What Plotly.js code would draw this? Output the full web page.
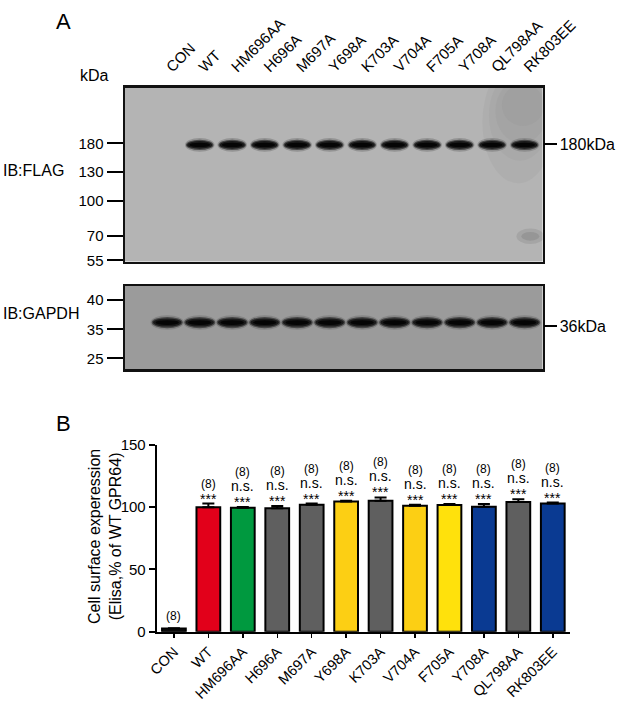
<!DOCTYPE html>
<html>
<head>
<meta charset="utf-8">
<script src="https://cdn.plot.ly/plotly-3.0.1.min.js"></script>
<style>
  body { margin: 0; background: #fff; }
  #chart { width: 617px; height: 702px; }
</style>
</head>
<body>
<div id="chart"></div>
<script>
// Lanes / groups (same order in the blots and in the bar chart)
const lanes = ['CON', 'WT', 'HM696AA', 'H696A', 'M697A', 'Y698A', 'K703A', 'V704A', 'F705A', 'Y708A', 'QL798AA', 'RK803EE'];

// Western blots: band present (1) or not (0) per lane
const flagBand = [0, 1, 1, 1, 1, 1, 1, 1, 1, 1, 1, 1];
const gapdhBand = [1, 1, 1, 1, 1, 1, 1, 1, 1, 1, 1, 1];

// Marker ladders (kDa) and their relative migration in each blot
const flagLadder = ['180', '130', '100', '70', '55'];
const flagLadderPos = [0.32, 0.483, 0.651, 0.852, 0.994];
const gapdhLadder = ['40', '35', '25'];
const gapdhLadderPos = [0.169, 0.522, 0.871];

// Cell surface expression (Elisa, % of WT GPR64)
const surface = [2.5, 100, 99.6, 99.2, 102, 104.6, 105.3, 101.2, 101.7, 100.3, 104.2, 103];
const surfaceErr = [0.3, 3, 0.5, 1.8, 1, 0.7, 2.6, 0.8, 0.9, 2.2, 2.3, 0.8];
const nLabels = ['(8)', '(8)', '(8)', '(8)', '(8)', '(8)', '(8)', '(8)', '(8)', '(8)', '(8)', '(8)'];
const nsLabels = ['', '', 'n.s.', 'n.s.', 'n.s.', 'n.s.', 'n.s.', 'n.s.', 'n.s.', 'n.s.', 'n.s.', 'n.s.'];
const starLabels = ['', '***', '***', '***', '***', '***', '***', '***', '***', '***', '***', '***'];

const barColors = ['#111111', '#e2001a', '#00993f', '#5f5f5f', '#5f5f5f', '#fccf14', '#5f5f5f',
                   '#fccf14', '#ffe10c', '#0a3a92', '#5f5f5f', '#0a3a92'];

const fnt = 'Liberation Sans, Arial, sans-serif';
const W = 617, H = 702;
const px = x => x / W;
const py = y => 1 - y / H;

const flagPos = 0.329;   // band migration in the FLAG blot
const gapdhPos = 0.44;   // band migration in the GAPDH blot
const laneIdx = lanes.map((_, i) => i);

// blurred-looking bands: stacked ellipses
function bandShapes(xref, yref, present, pos, hw, hh) {
  const out = [];
  const layers = [
    [1.14, 1.7, '#6a6a6a', 0.45],
    [1.06, 1.3, '#3a3a3a', 0.8],
    [0.97, 0.95, '#1a1a1a', 1],
    [0.8, 0.55, '#050505', 1]
  ];
  present.forEach((v, i) => {
    if (!v) return;
    layers.forEach(s => {
      out.push({
        type: 'circle', xref: xref, yref: yref,
        x0: i - hw * s[0], x1: i + hw * s[0], y0: pos - hh * s[1], y1: pos + hh * s[1],
        fillcolor: s[2], opacity: s[3], line: { width: 0 }
      });
    });
  });
  return out;
}

// faint haze in the upper right of the FLAG blot
function haze() {
  const out = [];
  [[9.7, 11.9, -0.15, 0.55], [9.9, 11.8, -0.1, 0.42], [10.1, 11.7, -0.05, 0.32], [10.3, 11.6, -0.02, 0.22]].forEach(r => {
    out.push({ type: 'circle', xref: 'x', yref: 'y', x0: r[0], x1: r[1], y0: r[2], y1: r[3],
               fillcolor: '#7c7c7c', opacity: 0.09, line: { width: 0 }, layer: 'below' });
  });
  out.push({ type: 'circle', xref: 'x', yref: 'y', x0: 10.75, x1: 11.6, y0: 0.81, y1: 0.9,
             fillcolor: '#8a8a8a', opacity: 0.35, line: { width: 0 } });
  out.push({ type: 'circle', xref: 'x', yref: 'y', x0: 10.9, x1: 11.45, y0: 0.83, y1: 0.88,
             fillcolor: '#7a7a7a', opacity: 0.35, line: { width: 0 } });
  return out;
}

const shapes = [
  { type: 'rect', xref: 'x domain', yref: 'y domain', x0: 0, x1: 1, y0: 0, y1: 1, fillcolor: '#b4b4b4', line: { width: 0 }, layer: 'below' },
  { type: 'rect', xref: 'x2 domain', yref: 'y2 domain', x0: 0, x1: 1, y0: 0, y1: 1, fillcolor: '#9b9b9b', line: { width: 0 }, layer: 'below' }
].concat(haze())
 .concat(bandShapes('x', 'y', flagBand, flagPos, 0.40, 0.023))
 .concat(bandShapes('x2', 'y2', gapdhBand, gapdhPos, 0.45, 0.052));

const annotations = [
  { text: 'A', x: px(54), y: py(21), xanchor: 'left', yanchor: 'middle', font: { size: 22 } },
  { text: 'kDa', x: px(78), y: py(76), xanchor: 'left', yanchor: 'middle', font: { size: 16 } },
  { text: 'IB:FLAG', x: px(1), y: py(170), xanchor: 'left', yanchor: 'middle', font: { size: 16 } },
  { text: 'IB:GAPDH', x: px(1), y: py(313), xanchor: 'left', yanchor: 'middle', font: { size: 16 } },
  { text: 'B', x: px(54), y: py(423), xanchor: 'left', yanchor: 'middle', font: { size: 22 } },
  { text: 'Cell surface experession<br>(Elisa,% of WT GPR64)', x: px(105), y: py(537), textangle: -90,
    xanchor: 'center', yanchor: 'middle', font: { size: 16 } }
].map(a => Object.assign({ xref: 'paper', yref: 'paper', showarrow: false }, a));

// bar-chart labels stacked above each error bar
lanes.forEach((lane, i) => {
  const top = surface[i] + surfaceErr[i];
  const base = { xref: 'x3', yref: 'y3', x: lane, y: top, showarrow: false, yanchor: 'middle' };
  if (starLabels[i]) annotations.push(Object.assign({}, base, { text: starLabels[i], yshift: 5, font: { size: 14 } }));
  if (nsLabels[i]) annotations.push(Object.assign({}, base, { text: nsLabels[i], yshift: 21, font: { size: 14 } }));
  const nShift = i === 0 ? 12 : (nsLabels[i] ? 35 : 20);
  annotations.push(Object.assign({}, base, { text: nLabels[i], yshift: nShift, font: { size: 12 } }));
});

const hidden = { mode: 'markers', marker: { opacity: 0 }, hoverinfo: 'skip', showlegend: false };

const data = [
  Object.assign({ x: laneIdx, y: laneIdx.map(() => flagPos), xaxis: 'x', yaxis: 'y' }, hidden),
  Object.assign({ x: laneIdx, y: laneIdx.map(() => flagPos), xaxis: 'x', yaxis: 'y4' }, hidden),
  Object.assign({ x: laneIdx, y: laneIdx.map(() => gapdhPos), xaxis: 'x2', yaxis: 'y2' }, hidden),
  Object.assign({ x: laneIdx, y: laneIdx.map(() => gapdhPos), xaxis: 'x2', yaxis: 'y5' }, hidden),
  {
    type: 'bar', x: lanes, y: surface, xaxis: 'x3', yaxis: 'y3', width: 0.69,
    marker: { color: barColors, line: { color: '#000', width: 2 } },
    error_y: { type: 'data', array: surfaceErr, arrayminus: surfaceErr.map(() => 0), symmetric: false,
               color: '#000', thickness: 2, width: 6 },
    hoverinfo: 'skip', showlegend: false
  }
];

const blotX = {
  range: [-1.3, 11.55], domain: [px(125), px(542.5)], showgrid: false, zeroline: false,
  showline: true, mirror: true, linewidth: 2.5, linecolor: '#111', fixedrange: true
};

const layout = {
  width: W, height: H,
  margin: { l: 0, r: 0, t: 0, b: 0 },
  paper_bgcolor: '#fff', plot_bgcolor: 'rgba(0,0,0,0)',
  font: { family: fnt, color: '#000' },
  showlegend: false,
  xaxis: Object.assign({}, blotX, {
    anchor: 'y', side: 'top', tickmode: 'array', tickvals: laneIdx, ticktext: lanes,
    tickangle: -45, ticks: 'outside', ticklen: 4, tickcolor: 'rgba(0,0,0,0)', tickfont: { size: 15 }
  }),
  yaxis: {
    anchor: 'x', domain: [py(261.5), py(87.7)], range: [1, 0], showgrid: false, zeroline: false,
    showline: true, mirror: true, linewidth: 2.5, linecolor: '#111',
    tickmode: 'array', tickvals: flagLadderPos, ticktext: flagLadder,
    ticks: 'outside', ticklen: 16, tickwidth: 2, tickcolor: '#000', tickfont: { size: 15 }
  },
  yaxis4: {
    overlaying: 'y', side: 'right', anchor: 'x', range: [1, 0], showgrid: false, zeroline: false, showline: false,
    tickmode: 'array', tickvals: [0.324], ticktext: ['180kDa'],
    ticks: 'outside', ticklen: 13, tickwidth: 2, tickcolor: '#000', tickfont: { size: 16 }
  },
  xaxis2: Object.assign({}, blotX, { anchor: 'y2', showticklabels: false, ticks: '' }),
  yaxis2: {
    anchor: 'x2', domain: [py(369), py(286)], range: [1, 0], showgrid: false, zeroline: false,
    showline: true, mirror: true, linewidth: 2.5, linecolor: '#111',
    tickmode: 'array', tickvals: gapdhLadderPos, ticktext: gapdhLadder,
    ticks: 'outside', ticklen: 16, tickwidth: 2, tickcolor: '#000', tickfont: { size: 15 }
  },
  yaxis5: {
    overlaying: 'y2', side: 'right', anchor: 'x2', range: [1, 0], showgrid: false, zeroline: false, showline: false,
    tickmode: 'array', tickvals: [0.482], ticktext: ['36kDa'],
    ticks: 'outside', ticklen: 13, tickwidth: 2, tickcolor: '#000', tickfont: { size: 16 }
  },
  xaxis3: {
    anchor: 'y3', domain: [px(156.7), px(570)], type: 'category', range: [-0.5, 11.5],
    showgrid: false, zeroline: false, showline: true, linewidth: 2, linecolor: '#000',
    ticks: 'outside', ticklen: 4, tickwidth: 1.5, tickcolor: '#000', tickangle: -45, tickfont: { size: 14.5 }
  },
  yaxis3: {
    anchor: 'x3', domain: [py(631.7), py(445)], range: [0, 150], showgrid: false, zeroline: false,
    showline: true, linewidth: 2, linecolor: '#000', tickvals: [0, 50, 100, 150],
    ticks: 'outside', ticklen: 6, tickwidth: 2, tickcolor: '#000', tickfont: { size: 15 }
  },
  shapes: shapes,
  annotations: annotations
};

Plotly.newPlot('chart', data, layout, { staticPlot: true, displayModeBar: false });
</script>
</body>
</html>
